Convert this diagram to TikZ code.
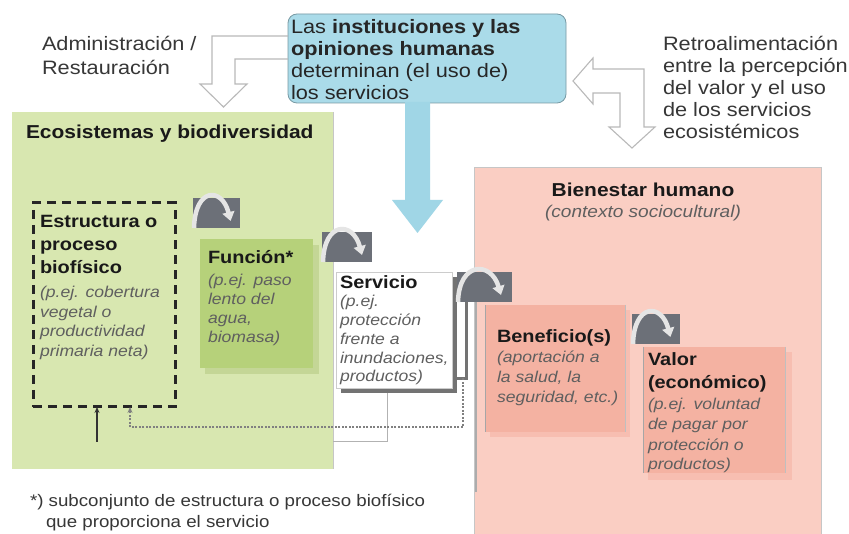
\documentclass[tikz,border=0pt]{standalone}
\usepackage{fontspec}
\setmainfont{Liberation Sans}[FakeStretch=1.12]
\usetikzlibrary{arrows.meta,calc}
\definecolor{ecobg}{RGB}{216,231,176}
\definecolor{funcfill}{RGB}{182,209,122}
\definecolor{funcshadow}{RGB}{196,214,150}
\definecolor{bluebox}{RGB}{170,219,233}
\definecolor{bluearrow}{RGB}{160,214,230}
\definecolor{pinkbg}{RGB}{250,206,195}
\definecolor{pinkbox}{RGB}{244,178,162}
\definecolor{iconbg}{RGB}{108,112,120}
\definecolor{italgray}{RGB}{95,95,95}
\definecolor{txtdark}{RGB}{55,55,55}
\definecolor{hollow}{RGB}{185,185,185}
\tikzset{
  box/.style={inner sep=0pt, outer sep=0pt, anchor=north west},
  txt/.style={inner sep=0pt, outer sep=0pt, anchor=base west},
  big/.style={font=\fontsize{19.4}{22}\selectfont, text=txtdark},
  hd/.style={font=\fontsize{17.8}{21}\selectfont\bfseries, text=black!90},
  ital/.style={font=\fontsize{15.7}{19}\selectfont\itshape, text=italgray},
  ttl/.style={font=\fontsize{18.7}{22}\selectfont\bfseries, text=black!90},
  foot/.style={font=\fontsize{16.7}{20}\selectfont, text=txtdark},
  iconarc/.style={line width=4.5pt, draw=white!90!black, -{Triangle[length=9pt,width=12pt]}},
  hollowline/.style={draw=hollow, line width=1.1pt, line join=miter},
  dotline/.style={draw=black!50, line width=2pt, dash pattern=on 2pt off 1.5pt},
  fbarrow/.style={-{Stealth[length=6pt,width=5pt]}}
}
\newcommand\txtlines[6]{%
  \foreach \tline [count=\i from 0] in {#6}{%
    \node[txt,#5] (#1\i) at (#2,{#3+\i*#4}) {\tline};}}
\newcommand\cycicon[4]{%
  \node[box, fill=iconbg, minimum width=#4pt, minimum height=30pt] (#1) at (#2,#3) {};
  \draw[iconarc] ($(#1.south west)+(1,0)$) .. controls ($(#1.north west)+(2,-11)$) and ($(#1.north west)+({0.62*#4},-11)$) .. ($(#1.south west)+({0.8*#4},-7)$);}
\begin{document}
\begin{tikzpicture}[x=1pt,y=-1pt]
\useasboundingbox (0,0) rectangle (849,534);
\fill[white] (0,0) rectangle (849,534);

% large areas
\node[box, fill=ecobg, minimum width=321pt, minimum height=357pt] (eco) at (12,112) {};
\draw[gray!45, line width=1pt] (eco.north east) -- (eco.south east);
\node[box, fill=pinkbg, draw=gray!45, line width=0.8pt, minimum width=347pt, minimum height=372pt] (bien) at (474,167) {};
\node[box, fill=bluebox, draw=bluebox!70!black, line width=0.8pt, rounded corners=9pt, minimum width=278pt, minimum height=89pt] (inst) at (288,14) {};

% big blue arrow
\fill[bluearrow] (405,102) -- (405,200) -- (392,200) -- (417.5,233) -- (443,200) -- (430,200) -- (430,102) -- cycle;

% hollow arrows
\draw[hollowline] (inst.west |- 0,36) -- (212,36) -- (212,84) -- (200,84) -- (223.5,107) -- (247,84) -- (235,84) -- (235,59) -- (inst.west |- 0,59);
\draw[hollowline] (573,81) -- (593,58) -- (593,69) -- (644,69) -- (644,127) -- (655,127) -- (632,148) -- (609,127) -- (620,127) -- (620,93) -- (593,93) -- (593,104) -- cycle;

% inner boxes
\node[box, draw=black!85, line width=3pt, dash pattern=on 9pt off 6pt, minimum width=142pt, minimum height=204pt] (estr) at (33,203) {};
\fill[funcshadow] (205,245) rectangle (319,374);
\node[box, fill=funcfill, minimum width=113pt, minimum height=129pt] (func) at (200,239) {};

\node[box, fill=white, draw=black!55, line width=3pt, minimum width=12pt, minimum height=99pt] (stack) at (454.5,279.5) {};
\fill[black!55] (341,277) rectangle (457,393);
\node[box, fill=white, draw=gray!40, line width=0.6pt, minimum width=116pt, minimum height=116pt] (serv) at (336,272) {};

\draw[gray!65, line width=2.5pt] (476,300) -- (476,492);

\fill[pinkbox!55!pinkbg] (490,310) rectangle (630,437);
\node[box, fill=pinkbox, minimum width=140pt, minimum height=127pt] (bene) at (485,305) {};
\draw[gray!70, line width=1pt] (bene.north west) -- (bene.south west);
\draw[gray!50, line width=0.8pt] (bene.north east) -- (bene.south east);

\fill[pinkbox!55!pinkbg] (648,352) rectangle (792,480);
\node[box, fill=pinkbox, minimum width=142pt, minimum height=126pt] (valo) at (643,347) {};
\draw[gray!70, line width=1pt] (valo.north west) -- (valo.south west);
\draw[gray!50, line width=0.8pt] (valo.north east) -- (valo.south east);

% cycle icons
\cycicon{ic1}{193}{198}{47}
\cycicon{ic2}{322}{232}{50}
\cycicon{ic3}{457}{272}{55}
\cycicon{ic4}{632}{314}{48}

% feedback connectors
\coordinate (fbL) at (97,442);
\draw[black!80, line width=1.4pt, fbarrow] (fbL) -- (fbL |- estr.south);
\draw[gray!60, line width=1pt] ($(serv.south)+(-7,5)$) |- (fbL -| eco.east);
\draw[dotline, fbarrow] ($(stack.south)+(2,0)$) -- ++(0,49) -| ($(estr.south west)+(97,0)$);

% texts
\txtlines{adm}{42}{51}{24}{big}{{Administración /},{Restauración}}
\txtlines{ins}{291}{34}{22}{big,text=black!85}{{Las \textbf{instituciones y las}},{\textbf{opiniones humanas}},{determinan (el uso de)},{los servicios}}
\txtlines{ret}{663}{51}{22}{big}{{Retroalimentación},{entre la percepción},{del valor y el uso},{de los servicios},{ecosistémicos}}

\node[txt, ttl] (ecot) at (26,139) {Ecosistemas y biodiversidad};
\node[inner sep=0pt, anchor=base, ttl] (bient) at (643,197) {Bienestar humano};
\node[inner sep=0pt, anchor=base, ital, font=\fontsize{17}{20}\selectfont\itshape] (bienc) at (643,218) {(contexto sociocultural)};

\txtlines{es}{40}{228}{23}{hd}{{Estructura o},{proceso},{biofísico}}
\txtlines{esi}{40}{298}{19.5}{ital}{{(p.ej. cobertura},{vegetal o},{productividad},{primaria neta)}}

\txtlines{fu}{208}{264}{0}{hd}{{Función*}}
\txtlines{fui}{208}{286}{19}{ital}{{(p.ej. paso},{lento del},{agua,},{biomasa)}}

\txtlines{sv}{340}{289}{0}{hd}{{Servicio}}
\txtlines{svi}{340}{307}{18.7}{ital}{{(p.ej.},{protección},{frente a},{inundaciones,},{productos)}}

\txtlines{bf}{497}{343}{0}{hd}{{Beneficio(s)}}
\txtlines{bfi}{497}{363}{20}{ital}{{(aportación a},{la salud, la},{seguridad, etc.)}}

\txtlines{vl}{648}{366}{23}{hd}{{Valor},{(económico)}}
\txtlines{vli}{648}{410}{20}{ital}{{(p.ej. voluntad},{de pagar por},{protección o},{productos)}}

\node[txt, foot] (fn1) at (30,506) {*) subconjunto de estructura o proceso biofísico};
\node[txt, foot] (fn2) at (46,527) {que proporciona el servicio};
\end{tikzpicture}
\end{document}
